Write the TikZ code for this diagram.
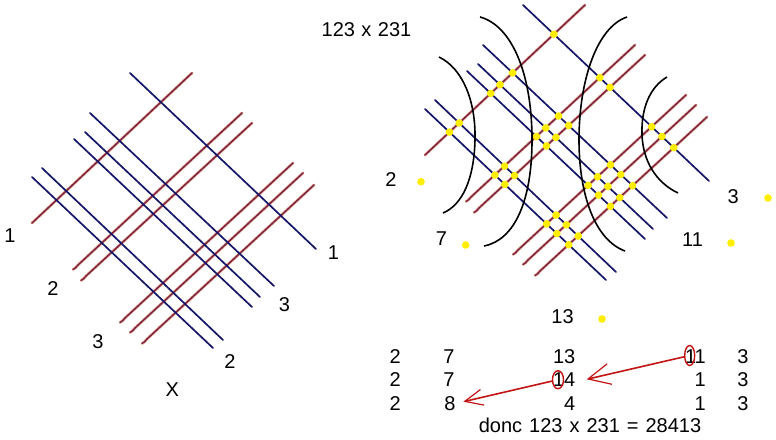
\documentclass[tikz,border=0pt]{standalone}
\usepackage{fontspec}
\setmainfont{Liberation Sans}
\usetikzlibrary{arrows.meta,shapes.geometric,calc}

\definecolor{navyline}{RGB}{22,22,105}
\definecolor{maroonline}{RGB}{125,34,68}
\definecolor{haloline}{RGB}{225,150,110}
\definecolor{dotyellow}{RGB}{255,238,0}
\definecolor{arrowred}{RGB}{195,20,20}

\tikzset{
  blueline/.style={draw=navyline, line width=1.7pt, line cap=round},
  redhalo/.style={draw=haloline, line width=2.9pt, line cap=round, opacity=0.7},
  redline/.style={draw=maroonline, line width=1.5pt, line cap=round},
  arcline/.style={draw=black, line width=1.6pt},
  lbl/.style={inner sep=0pt, font=\fontsize{20}{24}\selectfont},
  ydot/.style={fill=dotyellow},
  ring/.style={ellipse, draw=arrowred, line width=1.4pt, inner sep=0pt, fill=none},
  redarrow/.style={draw=arrowred, line width=1.6pt}
}

% lattice drawn in pixel coordinates, prefix #1 for coordinate names
\newcommand\drawlattice[1]{%
  \coordinate (#1b1s) at (130,73);  \coordinate (#1b1e) at (316,249);
  \coordinate (#1b2s) at (90,113);  \coordinate (#1b2e) at (274,286);
  \coordinate (#1b3s) at (85,132);  \coordinate (#1b3e) at (260,297);
  \coordinate (#1b4s) at (74,139);  \coordinate (#1b4e) at (252,307);
  \coordinate (#1b5s) at (42,168);  \coordinate (#1b5e) at (223,340);
  \coordinate (#1b6s) at (32,177);  \coordinate (#1b6e) at (213,348);
  \coordinate (#1r1s) at (32,223);  \coordinate (#1r1e) at (192,73);
  \coordinate (#1r2s) at (74,269);  \coordinate (#1r2e) at (242,113);
  \coordinate (#1r3s) at (82,280);  \coordinate (#1r3e) at (252,123);
  \coordinate (#1r4s) at (121,322); \coordinate (#1r4e) at (293,163);
  \coordinate (#1r5s) at (131,332); \coordinate (#1r5e) at (303,173);
  \coordinate (#1r6s) at (143,343); \coordinate (#1r6e) at (314,185);
  \draw[redhalo] (#1r1s) -- (#1r1e);
  \draw[redline] (#1r1s) -- (#1r1e);
  \foreach \k in {2,...,6}{
    \draw[redhalo] (#1r\k e) -- ($(#1r\k s)+(4,-4)$) .. controls ($(#1r\k s)+(2,-2)$) and ($(#1r\k s)+(1,0)$) .. ($(#1r\k s)+(-1,0.5)$);
    \draw[redline] (#1r\k e) -- ($(#1r\k s)+(4,-4)$) .. controls ($(#1r\k s)+(2,-2)$) and ($(#1r\k s)+(1,0)$) .. ($(#1r\k s)+(-1,0.5)$);
  }
  \foreach \k in {1,...,6}{
    \draw[blueline] (#1b\k s) -- (#1b\k e);
  }
}

\begin{document}
\begin{tikzpicture}[x=1pt,y=-1pt]
\useasboundingbox (0,0) rectangle (776,439);
\fill[white] (0,0) rectangle (776,439);

% ---------- left lattice ----------
\drawlattice{L}
\node[lbl] (la1) at (10,236) {1};
\node[lbl] (la2) at (53,288.3) {2};
\node[lbl] (la3) at (98,341.7) {3};
\node[lbl] (lb1) at (333.5,252.3) {1};
\node[lbl] (lb3) at (284.5,304.7) {3};
\node[lbl] (lb2) at (230,362) {2};
\node[lbl] (lx) at (172.2,389.7) {X};

\node[lbl] (title) at (366.5,30) {\spaceskip=6.5pt\relax 123 x 231};

% ---------- right lattice ----------
\begin{scope}[shift={(393,-68)}]
\drawlattice{R}
\end{scope}

\foreach \i in {1,...,6}{
  \foreach \j in {1,...,6}{
    \fill[ydot] (intersection of Rr\i s--Rr\i e and Rb\j s--Rb\j e) circle (3.8pt);
  }
}

% grouping arcs
\draw[arcline] (439,57) .. controls (462,68) and (476,100) .. (475,140)
               .. controls (474,180) and (462,205) .. (443,213);
\draw[arcline] (480,17) .. controls (510,25) and (532,70) .. (532,140)
               .. controls (532,200) and (515,240) .. (484,246);
\draw[arcline] (627,17) .. controls (597,27) and (579,80) .. (579,140)
               .. controls (579,195) and (595,240) .. (625,251);
\draw[arcline] (667,77) .. controls (650,87) and (641,108) .. (642,135)
               .. controls (643,160) and (655,182) .. (678,193);

% group sums with dots
\node[lbl] (s2) at (391,180) {2};
\fill[ydot] (421,181.7) circle (3.8pt);
\node[lbl] (s7) at (441.5,238.5) {7};
\fill[ydot] (465.7,245) circle (3.8pt);
\node[lbl] (s13) at (562.5,316.3) {13};
\fill[ydot] (602,319) circle (3.8pt);
\node[lbl] (s11) at (692.5,239.7) {11};
\fill[ydot] (731,243) circle (3.8pt);
\node[lbl] (s3) at (733.3,196.3) {3};
\fill[ydot] (768,198) circle (3.8pt);

% ---------- table ----------
\node[lbl] (a1) at (395.3,357) {2};
\node[lbl] (b1) at (449,357) {7};
\node[lbl,anchor=east] (c1) at (575.5,357) {13};
\node[lbl,anchor=east] (d1) at (706,357) {11};
\node[lbl] (e1) at (743,357) {3};

\node[lbl] (a2) at (395.3,380) {2};
\node[lbl] (b2) at (449,380) {7};
\node[lbl,anchor=east] (c2) at (575.5,380) {14};
\node[lbl,anchor=east] (d2) at (706,380) {1};
\node[lbl] (e2) at (743,380) {3};

\node[lbl] (a3) at (395.3,404) {2};
\node[lbl] (b3) at (450,404) {8};
\node[lbl,anchor=east] (c3) at (575.5,404) {4};
\node[lbl,anchor=east] (d3) at (706,404) {1};
\node[lbl] (e3) at (743,404) {3};

\node[lbl] (donc) at (590,425.5) {\spaceskip=7pt\relax donc 123 x 231 = 28413};

% carries
\node[ring, minimum width=10pt, minimum height=20pt] (ring1) at (689.7,355.5) {};
\node[ring, minimum width=11pt, minimum height=18pt] (ring2) at (558,379.7) {};
\coordinate (tip1) at (586.7,379.3);
\coordinate (tip2) at (463.3,401.7);
\draw[redarrow, -{Straight Barb[length=22pt,width=21pt,line width=1.2pt]}] (ring1) -- (tip1);
\draw[redarrow, -{Straight Barb[length=18pt,width=16pt,line width=1.2pt]}] (ring2) -- (tip2);

\end{tikzpicture}
\end{document}
